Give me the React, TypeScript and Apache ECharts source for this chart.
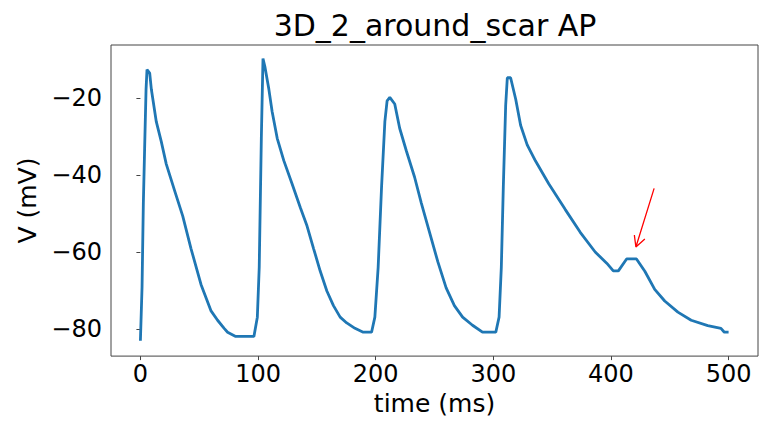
import React, { useEffect, useRef } from "react";
import * as echarts from "echarts";

const titleText = "3D_2_around_scar AP";
const xAxisName = "time (ms)";
const yAxisName = "V (mV)";
const xTicks = [0, 100, 200, 300, 400, 500];
const yTicks = [-80, -60, -40, -20];

const timeMs = [
  0, 1.4, 2.5, 3.6, 4.8, 5.6, 7.9, 9.3, 13.5, 17.7, 22, 29, 36, 43, 51.5, 59.9, 65.6, 71.2, 74.1, 81, 96.5,
  99.4, 101, 102.8, 104.2, 105.8, 109.2, 112, 116.3, 121.9, 128.9, 136, 141.6, 147.2, 152.9, 158.5, 164.1,
  169.8, 175.4, 182.4, 189.4, 196.5, 199.3, 202.1, 205, 207.8, 209.7, 212, 216.2, 220.4, 226.1, 233.1, 238.8,
  245.8, 252.8, 259.9, 266.9, 273.9, 282.3, 290.8, 302.1, 304.9, 306.8, 308.5, 310.5, 311.9, 314.7, 319,
  323.2, 328.8, 335.9, 347.1, 361.2, 373.9, 386.6, 396.4, 402, 406.3, 413.3, 421.7, 428.8, 437.2, 445.7,
  456.9, 468.2, 482.3, 493.5, 496.4, 500,
];
const voltage = [
  -83, -69, -47.3, -33, -17.8, -12.7, -13.6, -17.8, -26.2, -31.3, -37.2, -44, -50.7, -59.1, -68.4, -75.2,
  -77.7, -79.8, -80.8, -81.9, -81.9, -76.9, -64, -30.5, -9.8, -11.9, -17.8, -23.6, -30.5, -36.3, -42.3, -48.5,
  -53.2, -59.1, -65, -70.1, -73.9, -76.9, -78.4, -79.8, -80.8, -80.8, -76.9, -64, -43.1, -26.2, -20.8, -19.9,
  -21.6, -27.9, -33.8, -40.6, -47.3, -54.9, -62.5, -69.3, -73.9, -76.9, -79, -80.8, -80.8, -76.9, -64, -43.1,
  -22, -14.8, -14.8, -20.3, -27.1, -32.2, -36.4, -42.3, -49, -54.9, -60, -62.9, -64.9, -64.9, -61.8, -61.8,
  -65, -69.7, -72.7, -75.6, -77.7, -79.1, -79.8, -80.8, -80.8,
];

// Annotation arrow: tail -> tip, and the two head barbs
const arrowTail = [436.7, -43.5];
const arrowTip = [421.2, -58.7];
const arrowBarbA = [419.9, -55.6];
const arrowBarbB = [428.8, -56.6];

const FONT = "DejaVu Sans";

export default function App() {
  const ref = useRef<HTMLDivElement>(null);
  useEffect(() => {
    if (!ref.current) return;
    const chart = echarts.init(ref.current, undefined, { renderer: "svg" });
    const lineData = timeMs.map((t, i) => [t, voltage[i]]);
    const arrowData = [arrowTail, arrowTip, arrowBarbA, arrowTip, arrowBarbB];
    chart.setOption({
      animation: false,
      backgroundColor: "#ffffff",
      title: {
        text: titleText,
        left: 430,
        top: 5,
        textAlign: "center",
        textStyle: { fontFamily: FONT, fontSize: 30, fontWeight: "normal", color: "#000" },
      },
      grid: {
        left: 111,
        right: 1,
        top: 45,
        bottom: 58,
        show: true,
        borderColor: "#444",
        borderWidth: 1,
        containLabel: false,
      },
      xAxis: {
        type: "value",
        min: -25,
        max: 525,
        name: xAxisName,
        nameLocation: "middle",
        nameGap: 33,
        nameTextStyle: { fontFamily: FONT, fontSize: 25, color: "#000" },
        axisLine: { show: false },
        splitLine: { show: false },
        axisTick: { show: true, length: 4, lineStyle: { color: "#444" }, customValues: xTicks },
        axisLabel: { fontFamily: FONT, fontSize: 24, color: "#000", margin: 6, customValues: xTicks },
      },
      yAxis: {
        type: "value",
        min: -87,
        max: -6.3,
        name: yAxisName,
        nameLocation: "middle",
        nameGap: 64,
        nameRotate: 90,
        nameTextStyle: { fontFamily: FONT, fontSize: 25, color: "#000" },
        axisLine: { show: false },
        splitLine: { show: false },
        axisTick: { show: true, length: 4, lineStyle: { color: "#444" }, customValues: yTicks },
        axisLabel: {
          fontFamily: FONT,
          fontSize: 24,
          color: "#000",
          margin: 9,
          customValues: yTicks,
          formatter: (v: number) => (v < 0 ? "\u2212" + Math.abs(v) : String(v)),
        },
      },
      series: [
        {
          type: "line",
          data: lineData,
          showSymbol: false,
          symbol: "none",
          lineStyle: { color: "#1f77b4", width: 2.8 },
          z: 2,
        },
        {
          type: "line",
          data: arrowData,
          showSymbol: false,
          symbol: "none",
          lineStyle: { color: "#ff0000", width: 1.3 },
          z: 3,
        },
      ],
    });
    return () => chart.dispose();
  }, []);
  return (
    <div
      ref={ref}
      style={{ position: "absolute", left: 0, top: 0, width: 759, height: 421 }}
    />
  );
}
